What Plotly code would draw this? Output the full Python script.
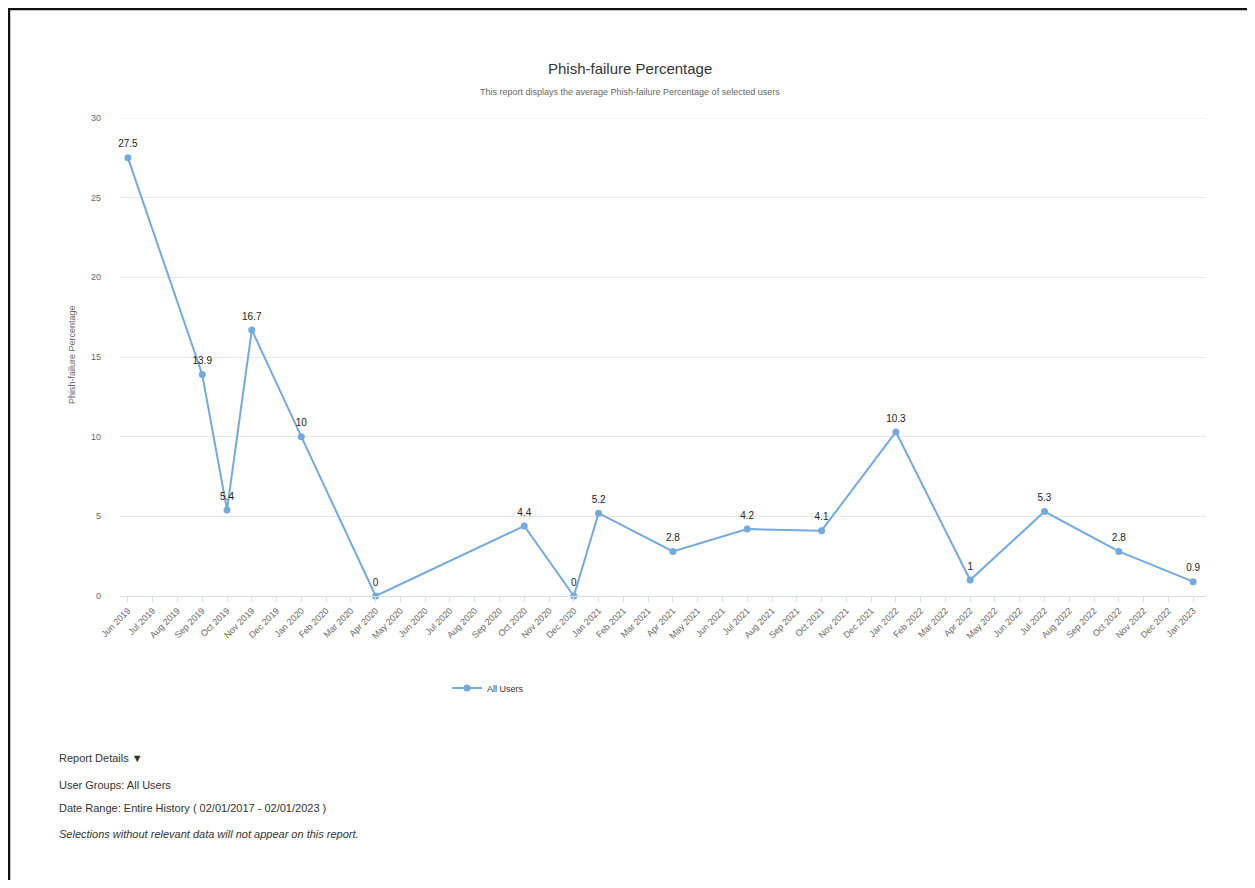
import plotly.graph_objects as go

# All month categories shown on the x axis
months = [
    "Jun 2019", "Jul 2019", "Aug 2019", "Sep 2019", "Oct 2019", "Nov 2019", "Dec 2019",
    "Jan 2020", "Feb 2020", "Mar 2020", "Apr 2020", "May 2020", "Jun 2020", "Jul 2020",
    "Aug 2020", "Sep 2020", "Oct 2020", "Nov 2020", "Dec 2020",
    "Jan 2021", "Feb 2021", "Mar 2021", "Apr 2021", "May 2021", "Jun 2021", "Jul 2021",
    "Aug 2021", "Sep 2021", "Oct 2021", "Nov 2021", "Dec 2021",
    "Jan 2022", "Feb 2022", "Mar 2022", "Apr 2022", "May 2022", "Jun 2022", "Jul 2022",
    "Aug 2022", "Sep 2022", "Oct 2022", "Nov 2022", "Dec 2022", "Jan 2023",
]

# Months that have data and their values
data_months = [
    "Jun 2019", "Sep 2019", "Oct 2019", "Nov 2019", "Jan 2020", "Apr 2020",
    "Oct 2020", "Dec 2020", "Jan 2021", "Apr 2021", "Jul 2021", "Oct 2021",
    "Jan 2022", "Apr 2022", "Jul 2022", "Oct 2022", "Jan 2023",
]
values = [27.5, 13.9, 5.4, 16.7, 10, 0, 4.4, 0, 5.2, 2.8, 4.2, 4.1, 10.3, 1, 5.3, 2.8, 0.9]
labels = ["27.5", "13.9", "5.4", "16.7", "10", "0", "4.4", "0", "5.2", "2.8", "4.2", "4.1",
          "10.3", "1", "5.3", "2.8", "0.9"]

series_name = "All Users"
y_ticks = [0, 5, 10, 15, 20, 25, 30]
y_max = 30

LINE = "#74a9dc"
GRID = "#e6e6e6"
FONT = "Liberation Sans, Arial, sans-serif"

# page geometry (browser body margin of 8px)
W, H = 1255, 888
O = 8
FW, FH = W - 2 * O, H - 2 * O
# plot area in page pixels
L, R, T, B = 120, 1206, 118, 596
pw, ph = R - L, B - T


def px(x):
    return (x - L) / pw


def py(y):
    return (B - y) / ph


fig = go.Figure()
fig.add_trace(go.Scatter(
    x=data_months, y=values, name=series_name,
    mode="lines+markers",
    line=dict(color=LINE, width=2),
    marker=dict(color=LINE, size=7, symbol="circle"),
    cliponaxis=False,
))
fig.add_trace(go.Scatter(
    x=data_months, y=values, text=labels, mode="markers+text",
    marker=dict(size=11, color="rgba(0,0,0,0)"),
    textposition="top center",
    textfont=dict(family=FONT, size=10, color="#222222"),
    showlegend=False, cliponaxis=False, hoverinfo="skip",
))

annotations = [
    dict(text="Phish-failure Percentage", x=px(630), y=py(68), xref="paper", yref="paper",
         showarrow=False, xanchor="center", yanchor="middle",
         font=dict(family=FONT, size=15, color="#333333")),
    dict(text="This report displays the average Phish-failure Percentage of selected users",
         x=px(630), y=py(92), xref="paper", yref="paper", showarrow=False,
         xanchor="center", yanchor="middle",
         font=dict(family=FONT, size=9, color="#666666")),
    dict(text="Phish-failure Percentage", x=px(72), y=py(355), xref="paper", yref="paper",
         showarrow=False, textangle=-90, xanchor="center", yanchor="middle",
         font=dict(family=FONT, size=9, color="#666666")),
    dict(text="Report Details ▼", x=px(57), y=py(758), xref="paper", yref="paper",
         showarrow=False, xanchor="left", yanchor="middle",
         font=dict(family=FONT, size=11, color="#333333")),
    dict(text="User Groups: All Users", x=px(57), y=py(785), xref="paper", yref="paper",
         showarrow=False, xanchor="left", yanchor="middle",
         font=dict(family=FONT, size=11, color="#333333")),
    dict(text="Date Range: Entire History ( 02/01/2017 - 02/01/2023 )", x=px(57), y=py(808),
         xref="paper", yref="paper", showarrow=False, xanchor="left", yanchor="middle",
         font=dict(family=FONT, size=11, color="#333333")),
    dict(text="<i>Selections without relevant data will not appear on this report.</i>",
         x=px(57), y=py(834), xref="paper", yref="paper", showarrow=False,
         xanchor="left", yanchor="middle",
         font=dict(family=FONT, size=11, color="#333333")),
]

shapes = [
    dict(type="line", xref="paper", yref="paper", x0=px(8), x1=px(W + 5), y0=py(9), y1=py(9),
         line=dict(color="#111111", width=2.5)),
    dict(type="line", xref="paper", yref="paper", x0=px(9), x1=px(9), y0=py(8), y1=py(H + 5),
         line=dict(color="#111111", width=2.5)),
    # top gridline at the axis maximum
    dict(type="line", xref="paper", yref="y", x0=0, x1=1, y0=y_max, y1=y_max,
         layer="below", line=dict(color=GRID, width=1)),
]

fig.update_layout(
    width=FW, height=FH,
    margin=dict(l=L - O, r=(W - O) - R, t=T - O, b=(H - O) - B),
    paper_bgcolor="white", plot_bgcolor="white",
    font=dict(family=FONT, size=10, color="#666666"),
    showlegend=True,
    legend=dict(orientation="h", x=px(488), y=py(688), xanchor="center", yanchor="middle",
                font=dict(family=FONT, size=9, color="#333333")),
    annotations=annotations,
    shapes=shapes,
    xaxis=dict(
        type="category", categoryorder="array", categoryarray=months,
        tickvals=months, ticktext=months,
        range=[-0.32, 43.52],
        tickangle=-45, tickfont=dict(family=FONT, size=9, color="#666666"),
        showgrid=False, showline=True, linecolor="#d8dde8", linewidth=1,
        ticks="outside", ticklen=5, tickcolor="#d8dde8",
        zeroline=False,
    ),
    yaxis=dict(
        range=[0, y_max], tickvals=y_ticks,
        tickfont=dict(family=FONT, size=9, color="#666666"),
        showgrid=True, gridcolor=GRID, gridwidth=1,
        zeroline=False, showline=False, ticks="", ticklabelstandoff=18,
    ),
)

fig.write_html("out.html")
